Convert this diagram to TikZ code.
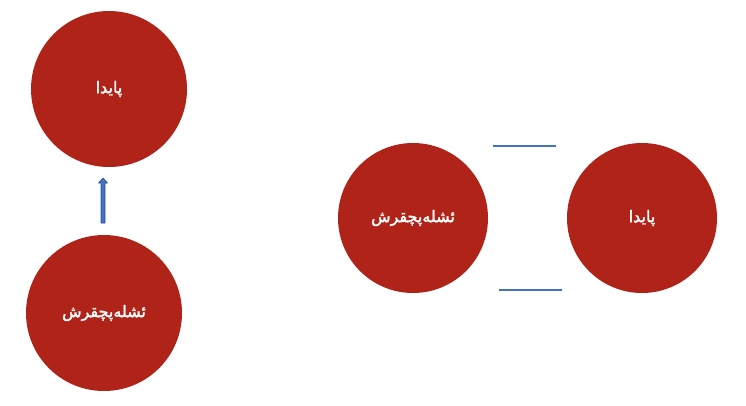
\documentclass[tikz,border=0pt]{standalone}
\usepackage{fontspec}
\TeXXeTstate=1
\newfontfamily\arabicfont[Script=Arabic,FakeBold=2]{DejaVu Sans}
\definecolor{circred}{RGB}{176,35,24}
\definecolor{lineblue}{RGB}{68,114,196}
\definecolor{edgeblue}{RGB}{47,82,143}
\begin{document}
\begin{tikzpicture}[x=1pt,y=-1pt,
  circ/.style={circle,fill=circred,draw=none,inner sep=0pt,text=white,font=\arabicfont\fontsize{16}{18}\selectfont},
  plainline/.style={draw=lineblue,line width=1.3pt}]
\useasboundingbox (0,0) rectangle (746,405);
\node[circ,minimum size=156pt] (pa) at (109,89) {\beginR پایدا\endR};
\node[circ,minimum size=156pt] (ish) at (104,313) {\beginR ئشلەپچقرش\endR};
\node[circ,minimum size=150pt] (ish2) at (413,218) {\beginR ئشلەپچقرش\endR};
\node[circ,minimum size=150pt] (pa2) at (642,218) {\beginR پایدا\endR};
% block arrow from ish up toward pa
\coordinate (atail) at (103,223);
\coordinate (ahead) at (103,178);
\filldraw[fill=lineblue,draw=edgeblue,line width=0.6pt]
  ([xshift=-2pt]atail) -- ([xshift=-2pt,yshift=-5pt]ahead) -- ([xshift=-4.5pt,yshift=-5pt]ahead)
  -- (ahead) -- ([xshift=4.5pt,yshift=-5pt]ahead) -- ([xshift=2pt,yshift=-5pt]ahead)
  -- ([xshift=2pt]atail) -- cycle;
\coordinate (t1) at (493,146);
\coordinate (t2) at (556,146);
\coordinate (b1) at (499,290);
\coordinate (b2) at (562,290);
\draw[plainline] (t1) -- (t2);
\draw[plainline] (b1) -- (b2);
\end{tikzpicture}
\end{document}
